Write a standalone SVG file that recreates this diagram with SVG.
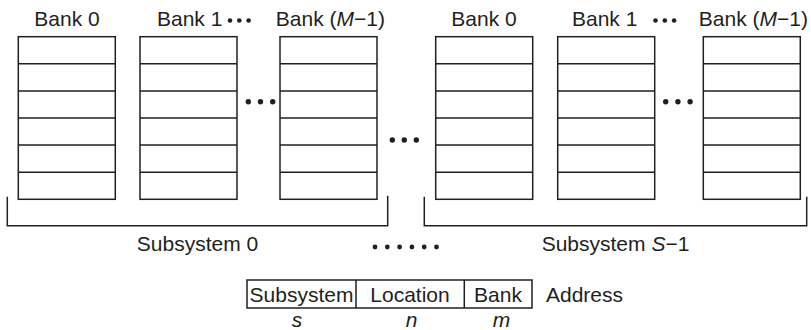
<svg xmlns="http://www.w3.org/2000/svg" width="811" height="330" viewBox="0 0 811 330">
<style>
text{font-family:"Liberation Sans",Arial,sans-serif;font-size:21px;fill:#231f20}
.i{font-style:italic}
.box{fill:#fff;stroke:#231f20;stroke-width:1.5}
.ln{fill:none;stroke:#231f20;stroke-width:1.5}
.d{fill:#231f20}
</style>
<defs>
<g id="bank">
<rect class="box" x="0" y="0" width="97" height="162.6"/>
<path class="ln" d="M0,27.1H97M0,54.2H97M0,81.3H97M0,108.4H97M0,135.5H97"/>
</g>
</defs>
<g id="subsystem0">
<g id="s0-bank0"><use href="#bank" x="18.3" y="36.7"/><text x="67" y="26" text-anchor="middle">Bank 0</text></g>
<g id="s0-bank1"><use href="#bank" x="140" y="36.7"/><text x="157" y="26">Bank 1</text></g>
<g id="s0-bankM"><use href="#bank" x="280" y="36.7"/><text x="385" y="26" text-anchor="end">Bank (<tspan class="i">M</tspan>−1)</text></g>
<g class="d"><circle cx="230" cy="20.5" r="2.3"/><circle cx="239.3" cy="20.5" r="2.3"/><circle cx="248.6" cy="20.5" r="2.3"/></g>
<g class="d"><circle cx="248.3" cy="101.7" r="2.7"/><circle cx="260.5" cy="101.7" r="2.7"/><circle cx="272.7" cy="101.7" r="2.7"/></g>
<text x="197.5" y="251" text-anchor="middle">Subsystem 0</text>
</g>
<g id="subsystemS">
<g id="s1-bank0"><use href="#bank" x="435.7" y="36.7"/><text x="484" y="26" text-anchor="middle">Bank 0</text></g>
<g id="s1-bank1"><use href="#bank" x="557.7" y="36.7"/><text x="572" y="26">Bank 1</text></g>
<g id="s1-bankM"><use href="#bank" x="703.3" y="36.7"/><text x="808" y="26" text-anchor="end">Bank (<tspan class="i">M</tspan>−1)</text></g>
<g class="d"><circle cx="655.5" cy="20.5" r="2.3"/><circle cx="664.8" cy="20.5" r="2.3"/><circle cx="674.1" cy="20.5" r="2.3"/></g>
<g class="d"><circle cx="665.7" cy="101.7" r="2.7"/><circle cx="677.9" cy="101.7" r="2.7"/><circle cx="690.1" cy="101.7" r="2.7"/></g>
<text x="615.5" y="251" text-anchor="middle">Subsystem <tspan class="i">S</tspan>−1</text>
</g>
<g id="connectors">
<path class="ln" d="M7.3,196.7V225.7H387.7V195.7"/>
<path class="ln" d="M424.3,196.7V225.7H806.7V196.7"/>
<g class="d"><circle cx="392.3" cy="140" r="2.7"/><circle cx="404.3" cy="140" r="2.7"/><circle cx="416.3" cy="140" r="2.7"/></g>
<g class="d"><circle cx="375" cy="247" r="2.4"/><circle cx="387.3" cy="247" r="2.4"/><circle cx="399.6" cy="247" r="2.4"/><circle cx="411.9" cy="247" r="2.4"/><circle cx="424.2" cy="247" r="2.4"/><circle cx="436.5" cy="247" r="2.4"/></g>
</g>
<g id="address">
<rect class="ln" x="247" y="280" width="285" height="28"/>
<path class="ln" d="M356,280V308M464.3,280V308"/>
<text x="301.5" y="301.5" text-anchor="middle">Subsystem</text>
<text x="410" y="301.5" text-anchor="middle">Location</text>
<text x="498" y="301.5" text-anchor="middle">Bank</text>
<text x="546" y="301.5">Address</text>
<text class="i" x="297" y="327" text-anchor="middle">s</text>
<text class="i" x="411.5" y="327" text-anchor="middle">n</text>
<text class="i" x="501.5" y="327" text-anchor="middle">m</text>
</g>
</svg>
